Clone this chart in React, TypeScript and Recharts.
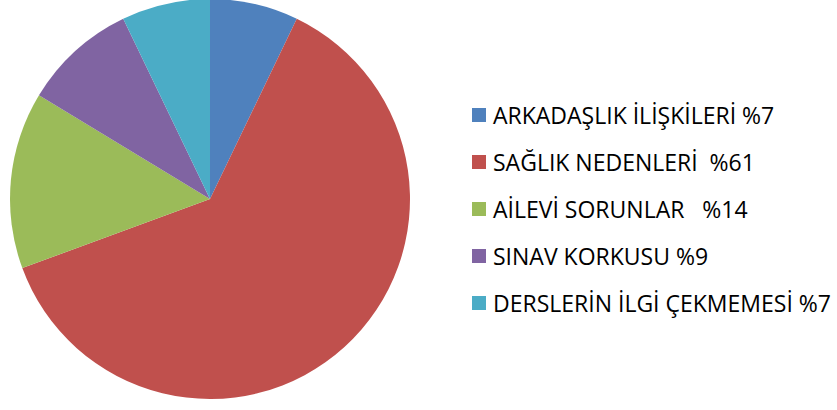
import { PieChart, Pie, Cell, Legend } from "recharts";

const categories = [
  "ARKADAŞLIK İLİŞKİLERİ",
  "SAĞLIK NEDENLERİ",
  "AİLEVİ SORUNLAR",
  "SINAV KORKUSU",
  "DERSLERİN İLGİ ÇEKMEMESİ",
];
const values = [7, 61, 14, 9, 7];
const legendLabels = [
  "ARKADAŞLIK İLİŞKİLERİ %7",
  "SAĞLIK NEDENLERİ  %61",
  "AİLEVİ SORUNLAR   %14",
  "SINAV KORKUSU %9",
  "DERSLERİN İLGİ ÇEKMEMESİ %7",
];
const colors = ["#4F81BD", "#C0504D", "#9BBB59", "#8064A2", "#4BACC6"];

const data = categories.map((name, i) => ({ name, value: values[i] }));

function LegendList() {
  return (
    <div>
      {legendLabels.map((label, i) => (
        <div
          key={label}
          style={{
            display: "flex",
            alignItems: "center",
            height: 46.8,
            whiteSpace: "pre",
          }}
        >
          <span
            style={{
              display: "inline-block",
              width: 14,
              height: 14,
              background: colors[i],
              marginRight: 7,
              flexShrink: 0,
            }}
          />
          <span style={{ fontSize: 23, color: "#000" }}>{label}</span>
        </div>
      ))}
    </div>
  );
}

export default function App() {
  return (
    <div
      style={{
        position: "absolute",
        left: 0,
        top: 0,
        width: 837,
        height: 410,
        background: "#fff",
        fontFamily: "'Open Sans', sans-serif",
        overflow: "hidden",
      }}
    >
      <PieChart
        width={837}
        height={410}
        margin={{ top: 0, right: 0, bottom: 0, left: 0 }}
      >
        <Pie
          data={data}
          dataKey="value"
          nameKey="name"
          cx={210}
          cy={199}
          outerRadius={200}
          startAngle={90}
          endAngle={-270}
          stroke="none"
          isAnimationActive={false}
        >
          {data.map((d, i) => (
            <Cell key={d.name} fill={colors[i]} />
          ))}
        </Pie>
        <Legend
          content={() => <LegendList />}
          wrapperStyle={{ position: "absolute", left: 472, top: 92, width: 370 }}
        />
      </PieChart>
    </div>
  );
}
